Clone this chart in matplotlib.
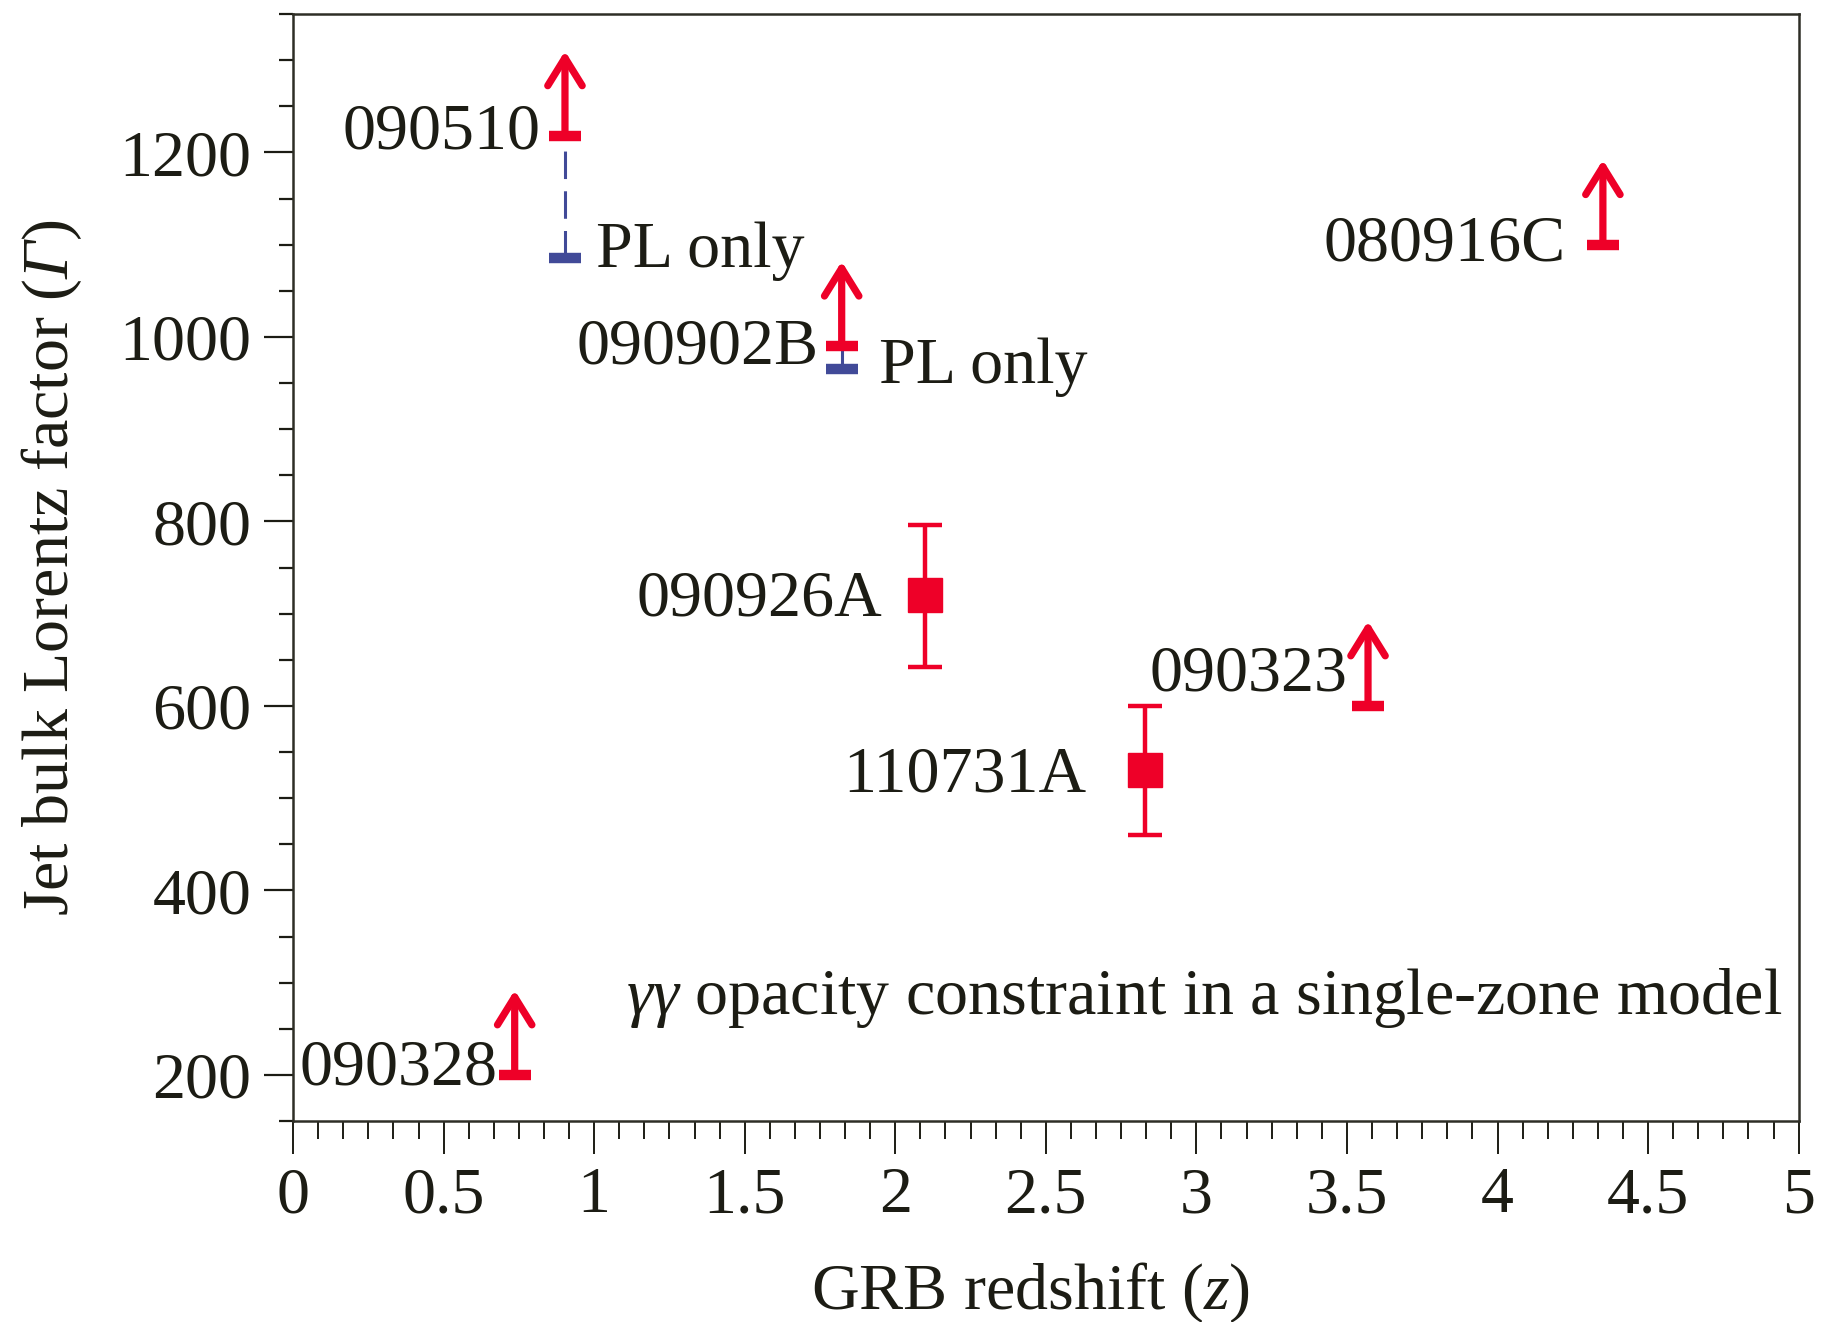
import numpy as np
import matplotlib
matplotlib.use("Agg")
import matplotlib.pyplot as plt
from matplotlib.ticker import MultipleLocator

plt.rcParams['font.family'] = ['Liberation Serif', 'DejaVu Serif']
# every math symbol on this plot is italic (z, Gamma, gamma)
plt.rcParams['mathtext.fontset'] = 'custom'
plt.rcParams['mathtext.rm'] = 'Liberation Serif:italic'
plt.rcParams['mathtext.it'] = 'Liberation Serif:italic'

# lower limits on Gamma (arrows)
lim_names = ['090510', '090902B', '080916C', '090323', '090328']
lim_z = [0.903, 1.822, 4.35, 3.57, 0.736]
lim_gamma = [1218, 990, 1100, 600, 200]

# lower limits from the power-law-only fit
pl_z = [0.903, 1.822]
pl_gamma = [1085, 965]

# bursts with a measured Gamma
meas_names = ['090926A', '110731A']
meas_z = [2.10, 2.83]
meas_gamma = [720, 530]
meas_lo = [78, 70]
meas_hi = [76, 70]

red = '#ee0028'
blue = '#414a98'
ink = '#1c1c14'
fs = 47.5

fig = plt.figure(figsize=(18.26, 13.22), dpi=100)
ax = fig.add_axes([0.1605, 0.152, 0.8245, 0.8374])

# label offsets in pixels (dx, dy) from the bar, text right-aligned
lim_label_off = {'090510': (-24, -13), '090902B': (-23, -17), '080916C': (-37, -16),
                 '090323': (-21, 15), '090328': (-17, -10)}
meas_label_off = {'090926A': (-43, -20), '110731A': (-59, -21)}
pl_label_off = [(31, -9), (37, -14)]

# power-law-only limits: dashed for 090510, short solid stub for 090902B
ax.vlines(pl_z[0], pl_gamma[0], lim_gamma[0], colors=blue, lw=2.2,
          linestyles=(0, (9, 4)), zorder=2)
ax.vlines(pl_z[1], pl_gamma[1], lim_gamma[1], colors=blue, lw=2.2, zorder=2)
ax.plot(pl_z, pl_gamma, ls='none', marker='_', ms=23, mew=7.5, color=blue, zorder=3)
for (z, g), (dx, dy) in zip(zip(pl_z, pl_gamma), pl_label_off):
    ax.annotate('PL only', xy=(z, g), xytext=(dx, dy), textcoords='offset pixels',
                ha='left', va='baseline', fontsize=fs, color=ink)

# lower limits: bar + upward arrow
ax.plot(lim_z, lim_gamma, ls='none', marker='_', ms=23, mew=7.5, color=red, zorder=4)
for name, z, g in zip(lim_names, lim_z, lim_gamma):
    ax.annotate('', xy=(z, g), xytext=(0, 61), textcoords='offset points',
                arrowprops=dict(arrowstyle='<-, head_length=1.0, head_width=0.62',
                                mutation_scale=20, color=red, lw=5.2,
                                shrinkA=0, shrinkB=0), zorder=4)
    dx, dy = lim_label_off[name]
    ax.annotate(name, xy=(z, g), xytext=(dx, dy), textcoords='offset pixels',
                ha='right', va='baseline', fontsize=fs, color=ink)

# measured values with error bars
ax.errorbar(meas_z, meas_gamma, yerr=[meas_lo, meas_hi], fmt='s', ms=25,
            color=red, ecolor=red, elinewidth=3.2, capsize=12, capthick=3.2, zorder=4)
for name, z, g in zip(meas_names, meas_z, meas_gamma):
    dx, dy = meas_label_off[name]
    ax.annotate(name, xy=(z, g), xytext=(dx, dy), textcoords='offset pixels',
                ha='right', va='baseline', fontsize=fs, color=ink)

ax.text(1.105, 266, r'$\gamma\gamma$ opacity constraint in a single-zone model',
        fontsize=fs, color=ink, ha='left', va='baseline')

ax.set_xlim(0, 5)
ax.set_ylim(150, 1350)
ax.xaxis.set_major_locator(MultipleLocator(0.5))
ax.xaxis.set_minor_locator(MultipleLocator(0.5 / 6))
ax.yaxis.set_major_locator(MultipleLocator(200))
ax.yaxis.set_minor_locator(MultipleLocator(50))
ax.set_xticks(np.arange(0, 5.01, 0.5))
ax.set_xticklabels(['0', '0.5', '1', '1.5', '2', '2.5', '3', '3.5', '4', '4.5', '5'])
ax.set_yticks([200, 400, 600, 800, 1000, 1200])

ax.tick_params(axis='x', which='major', direction='out', length=24, width=1.4,
               pad=9, labelsize=fs, colors=ink)
ax.tick_params(axis='x', which='minor', direction='out', length=13, width=1.4, colors=ink)
ax.tick_params(axis='y', which='major', direction='out', length=21, width=1.6,
               pad=9, labelsize=fs, colors=ink)
ax.tick_params(axis='y', which='minor', direction='out', length=10, width=1.6, colors=ink)
for s in ax.spines.values():
    s.set_linewidth(1.8)
    s.set_color('#2e2e26')

ax.set_xlabel('GRB redshift ($z$)', fontsize=fs, color=ink)
ax.set_ylabel(r'Jet bulk Lorentz factor ($\Gamma$)', fontsize=fs, color=ink)
ax.xaxis.set_label_coords(0.49, -0.126)
ax.yaxis.set_label_coords(-0.139, 0.5)

fig.savefig('out.png', dpi=100)
